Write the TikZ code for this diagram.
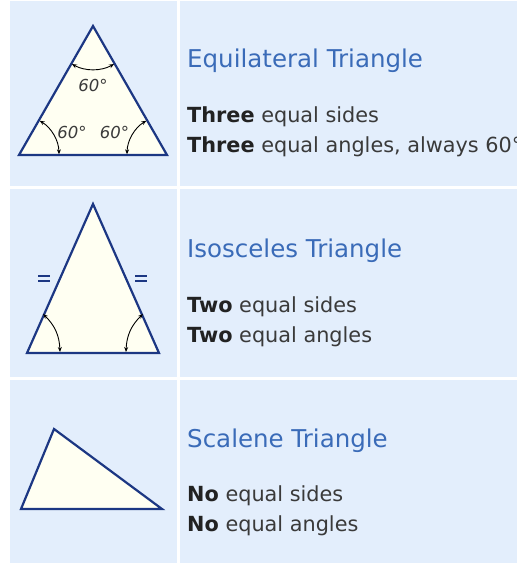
\documentclass[tikz,border=0pt]{standalone}
\usepackage{fontspec}
\setmainfont{DejaVu Sans}
\usetikzlibrary{arrows.meta}
\definecolor{cellbg}{HTML}{E3EEFC}
\definecolor{trifill}{HTML}{FFFFF2}
\definecolor{triedge}{HTML}{1C3783}
\definecolor{titleblue}{HTML}{3A6BB8}
\definecolor{bodytext}{HTML}{3A3A3A}
\definecolor{boldtext}{HTML}{222222}
\tikzset{
  cell/.style={fill=cellbg, draw=none},
  tri/.style={draw=triedge, fill=trifill, line width=2.2pt, line join=miter},
  angarrow/.style={draw=black, line width=0.9pt, {Stealth[length=5pt,width=4pt]}-{Stealth[length=5pt,width=4pt]}},
  anglabel/.style={font=\fontsize{16.5}{18}\selectfont\itshape, text=bodytext, inner sep=0pt},
  title/.style={anchor=base west, inner sep=0pt, text=titleblue, font=\fontsize{24.5}{28}\selectfont},
  body/.style={anchor=base west, inner sep=0pt, text=bodytext, font=\fontsize{20.8}{24}\selectfont},
  eqmark/.style={draw=triedge, line width=2pt}
}
\newcommand{\bw}[1]{\textbf{\color{boldtext}#1}}
\begin{document}
\begin{tikzpicture}[x=1pt,y=-1pt]
\useasboundingbox (0,0) rectangle (517,563);
\fill[white] (0,0) rectangle (517,563);
% cells
\fill[cell] (10,1) rectangle (177,186);
\fill[cell] (180,1) rectangle (517,186);
\fill[cell] (10,189) rectangle (177,377);
\fill[cell] (180,189) rectangle (517,377);
\fill[cell] (10,380) rectangle (177,563);
\fill[cell] (180,380) rectangle (517,563);

% Equilateral triangle
\coordinate (eA) at (93,26);
\coordinate (eB) at (19,155);
\coordinate (eC) at (167,155);
\draw[tri] (eA) -- (eB) -- (eC) -- cycle;
\draw[angarrow] ([shift={(119:43.5)}]eA) arc[start angle=119, end angle=61, radius=43.5];
\draw[angarrow] ([shift={(-1:40)}]eB) arc[start angle=-1, end angle=-59, radius=40];
\draw[angarrow] ([shift={(-121:40)}]eC) arc[start angle=-121, end angle=-179, radius=40];
\node[anglabel] (l1) at (93,85) {60°};
\node[anglabel] (l2) at (72,132) {60°};
\node[anglabel] (l3) at (114.5,132) {60°};

\node[title] (t1) at (187,67) {Equilateral Triangle};
\node[body] (b11) at (187,122) {\bw{Three} equal sides};
\node[body] (b12) at (187,152) {\bw{Three} equal angles, always 60°};

% Isosceles triangle
\coordinate (iA) at (93,204);
\coordinate (iB) at (27,353);
\coordinate (iC) at (159,353);
\draw[tri] (iA) -- (iB) -- (iC) -- cycle;
\coordinate (il1) at (60,352);
\coordinate (il2) at (43,314);
\coordinate (ir1) at (126,352);
\coordinate (ir2) at (143,314);
\draw[angarrow] (il2) to[bend left=22] (il1);
\draw[angarrow] (ir1) to[bend left=22] (ir2);
\draw[eqmark] (38,275.5) -- (50,275.5);
\draw[eqmark] (38,281) -- (50,281);
\draw[eqmark] (135,275.5) -- (147,275.5);
\draw[eqmark] (135,281) -- (147,281);

\node[title] (t2) at (187,257) {Isosceles Triangle};
\node[body] (b21) at (187,312) {\bw{Two} equal sides};
\node[body] (b22) at (187,342) {\bw{Two} equal angles};

% Scalene triangle
\coordinate (sA) at (54,429);
\coordinate (sB) at (21,509);
\coordinate (sC) at (162,509);
\draw[tri] (sA) -- (sB) -- (sC) -- cycle;

\node[title] (t3) at (187,447) {Scalene Triangle};
\node[body] (b31) at (187,501) {\bw{No} equal sides};
\node[body] (b32) at (187,531) {\bw{No} equal angles};
\end{tikzpicture}
\end{document}
